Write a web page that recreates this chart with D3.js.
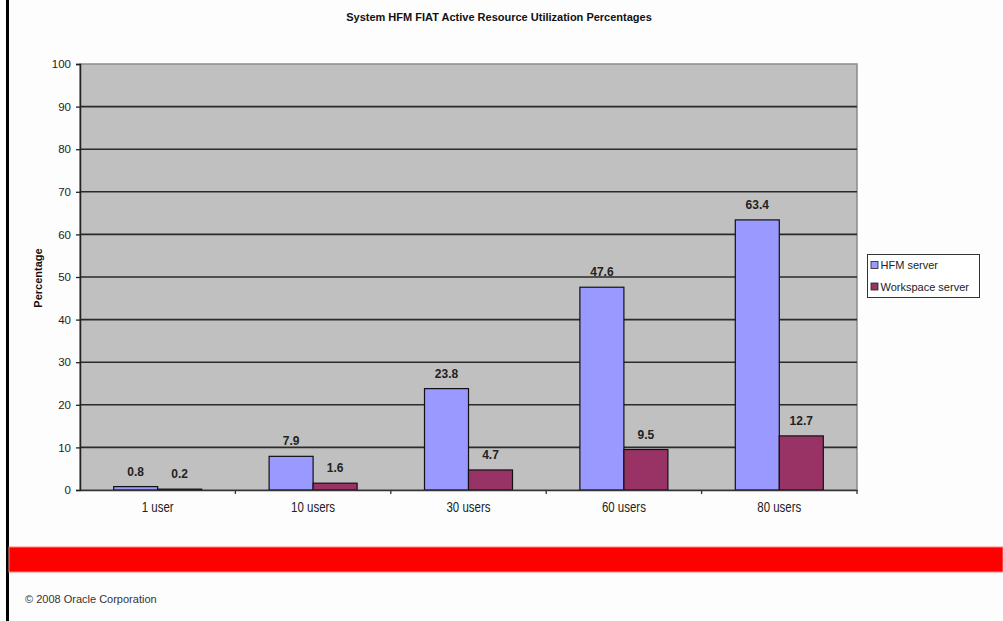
<!DOCTYPE html>
<html>
<head>
<meta charset="utf-8">
<script src="https://cdn.jsdelivr.net/npm/d3@7"></script>
<style>
  html, body { margin: 0; padding: 0; background: #fdfdfd; }
  svg { display: block; }
</style>
</head>
<body>
<svg id="chart" width="1003" height="621"></svg>
<script>
// Utilization data per user load
const categories = ["1 user", "10 users", "30 users", "60 users", "80 users"];
const seriesNames = ["HFM server", "Workspace server"];
const hfmServer = [0.8, 7.9, 23.8, 47.6, 63.4];
const workspaceServer = [0.2, 1.6, 4.7, 9.5, 12.7];
const yTicks = [0, 10, 20, 30, 40, 50, 60, 70, 80, 90, 100];
const colors = ["#9999ff", "#993366"];

const svg = d3.select("#chart");
const W = 1003, H = 621;
const plot = { left: 80, right: 857, top: 64, bottom: 490 };

svg.append("rect").attr("width", W).attr("height", H).attr("fill", "#fdfdfd");

// slide frame line on the left
svg.append("rect").attr("x", 6).attr("y", 0).attr("width", 3).attr("height", H).attr("fill", "#000");

// title
svg.append("text")
  .attr("x", 499).attr("y", 21)
  .attr("text-anchor", "middle")
  .attr("font-family", "Liberation Sans, Arial, sans-serif")
  .attr("font-weight", "bold").attr("font-size", 11)
  .attr("fill", "#111")
  .text("System HFM FIAT Active Resource Utilization Percentages");

const x0 = d3.scaleBand().domain(categories).range([plot.left, plot.right]).paddingInner(0).paddingOuter(0);
const groupW = 88;
const x1 = d3.scaleBand().domain(seriesNames).range([0, groupW]);
const y = d3.scaleLinear().domain([0, 100]).range([plot.bottom, plot.top]);

// plot background
svg.append("rect")
  .attr("x", plot.left).attr("y", plot.top)
  .attr("width", plot.right - plot.left).attr("height", plot.bottom - plot.top)
  .attr("fill", "#c0c0c0")
  .attr("stroke", "#8a8a8a").attr("stroke-width", 1.5);

// gridlines
svg.append("g").selectAll("line")
  .data(yTicks.filter(d => d > 0 && d < 100))
  .join("line")
  .attr("x1", plot.left).attr("x2", plot.right)
  .attr("y1", d => y(d)).attr("y2", d => y(d))
  .attr("stroke", "#2a2a2a").attr("stroke-width", 1.6);

// y axis
const yAxis = svg.append("g")
  .attr("transform", `translate(${plot.left},0)`)
  .call(d3.axisLeft(y).tickValues(yTicks).tickSize(4).tickPadding(5));
yAxis.select(".domain").attr("stroke", "#222").attr("stroke-width", 1.5);
yAxis.selectAll(".tick line").attr("stroke", "#222").attr("stroke-width", 1.3);
yAxis.selectAll(".tick text")
  .attr("font-family", "Liberation Sans, Arial, sans-serif")
  .attr("font-size", 11.5).attr("fill", "#222");

// y axis title
svg.append("text")
  .attr("transform", `translate(42,278) rotate(-90)`)
  .attr("text-anchor", "middle")
  .attr("font-family", "Liberation Sans, Arial, sans-serif")
  .attr("font-weight", "bold").attr("font-size", 11)
  .attr("fill", "#111")
  .text("Percentage");

// bars
const rows = categories.map((c, i) => ({ cat: c, vals: [hfmServer[i], workspaceServer[i]] }));
const groups = svg.append("g").selectAll("g")
  .data(rows).join("g")
  .attr("transform", d => `translate(${x0(d.cat) + (x0.bandwidth() - groupW) / 2},0)`);

groups.selectAll("rect")
  .data(d => d.vals.map((v, j) => ({ name: seriesNames[j], v, j })))
  .join("rect")
  .attr("x", d => x1(d.name))
  .attr("y", d => y(d.v))
  .attr("width", x1.bandwidth())
  .attr("height", d => y(0) - y(d.v))
  .attr("fill", d => colors[d.j])
  .attr("stroke", "#111").attr("stroke-width", 1.2);

groups.selectAll("text")
  .data(d => d.vals.map((v, j) => ({ name: seriesNames[j], v, j })))
  .join("text")
  .attr("x", d => x1(d.name) + x1.bandwidth() / 2)
  .attr("y", d => y(d.v) - 11)
  .attr("text-anchor", "middle")
  .attr("font-family", "Liberation Sans, Arial, sans-serif")
  .attr("font-weight", "bold").attr("font-size", 12)
  .attr("fill", "#222")
  .text(d => d.v);

// x axis
const xAxis = svg.append("g")
  .attr("transform", `translate(0,${plot.bottom})`)
  .call(d3.axisBottom(x0).tickSize(0).tickPadding(12));
xAxis.select(".domain").attr("stroke", "#333").attr("stroke-width", 1.5);
// narrow category labels: squeeze each label horizontally about its own centre
xAxis.selectAll(".tick text")
  .attr("font-family", "Liberation Sans, Arial, sans-serif")
  .attr("font-size", 14).attr("fill", "#222")
  .attr("transform", "scale(0.82,1)");
// category boundary tick marks
svg.append("g").selectAll("line")
  .data(categories.slice(1).concat(["__end"]))
  .join("line")
  .attr("x1", (d, i) => i < categories.length - 1 ? x0(d) : plot.right)
  .attr("x2", (d, i) => i < categories.length - 1 ? x0(d) : plot.right)
  .attr("y1", plot.bottom).attr("y2", plot.bottom + 4)
  .attr("stroke", "#333").attr("stroke-width", 1.3);

// legend
const lg = svg.append("g").attr("transform", "translate(867.5,254.5)");
lg.append("rect").attr("width", 112).attr("height", 43)
  .attr("fill", "#ffffff").attr("stroke", "#333").attr("stroke-width", 1);
seriesNames.forEach((n, i) => {
  const yy = 10.5 + i * 21.5;
  lg.append("rect").attr("x", 3.5).attr("y", yy - 3.5).attr("width", 7).attr("height", 7)
    .attr("fill", colors[i]).attr("stroke", "#222").attr("stroke-width", 0.8);
  lg.append("text").attr("x", 13).attr("y", yy + 4)
    .attr("font-family", "Liberation Sans, Arial, sans-serif")
    .attr("font-size", 11).attr("fill", "#222")
    .text(n);
});

// footer band
svg.append("rect").attr("x", 9).attr("y", 547).attr("width", W - 9).attr("height", 25)
  .attr("fill", "#ff0000").attr("stroke", "#ff8080").attr("stroke-width", 1);

svg.append("text")
  .attr("x", 25).attr("y", 603)
  .attr("font-family", "Liberation Sans, Arial, sans-serif")
  .attr("font-size", 11).attr("fill", "#333")
  .text("© 2008 Oracle Corporation");
</script>
</body>
</html>
